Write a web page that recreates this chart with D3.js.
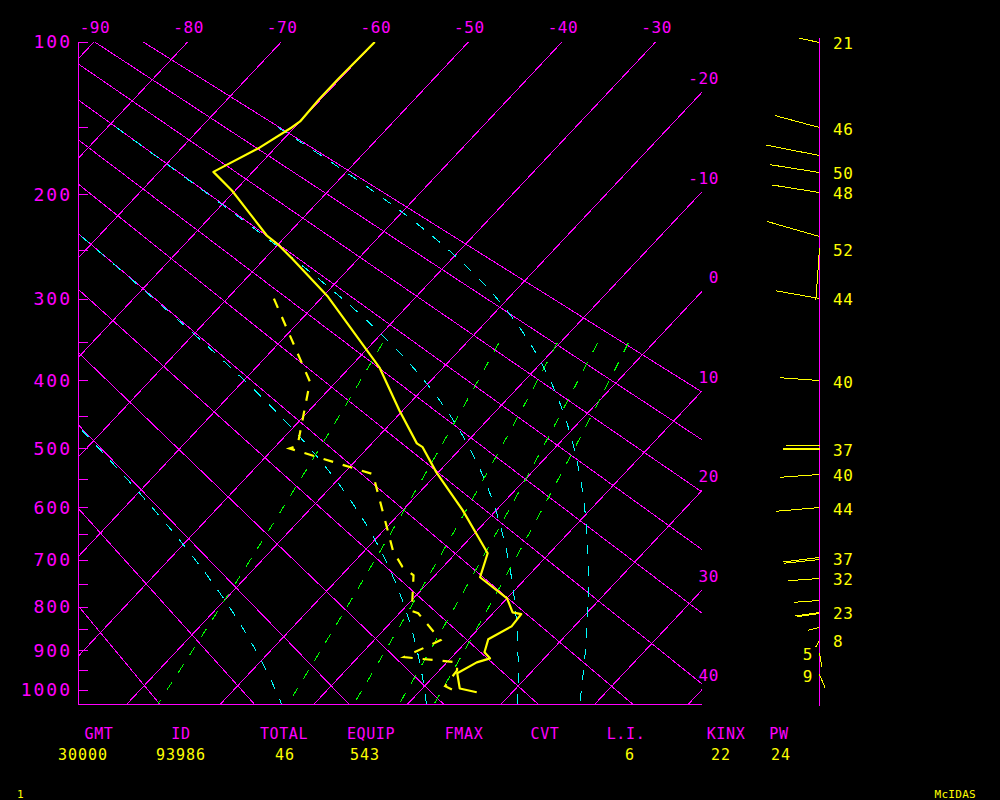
<!DOCTYPE html>
<html><head><meta charset="utf-8">
<script src="https://cdn.jsdelivr.net/npm/d3@7"></script>
<style>html,body{margin:0;padding:0;background:#000}svg{display:block}</style>
</head><body>
<svg id="c" width="1000" height="800"></svg>
<script>
// ---------------- data ----------------
const pressureTicks  = [100,150,200,250,300,350,400,450,500,550,600,650,700,750,800,850,900,950,1000];
const pressureLabels = [100,200,300,400,500,600,700,800,900,1000];
const isotherms      = [-90,-80,-70,-60,-50,-40,-30,-20,-10,0,10,20,30,40];
const dryAdiabatsK   = [254,264,274,284,294,304,314,324,334,344,354,364];
const moistAdiabatsK = [274,304,334,364];
const mixingRatios   = [1,3,5,7,9];

const tempP = [100,120,132,146,150,164,182,197,213,236,244,258,298,383,442,492,498,539,605,687,736,781,812,816,844,874,905,920,930,957,996,1006];
const tempT = [-60.0,-60.2,-60.2,-60.0,-60.3,-61.7,-64.2,-60.3,-56.8,-52.1,-50.1,-47.1,-39.4,-26.8,-20.4,-15.2,-14.2,-10.2,-3.6,3.4,5.0,10.0,12.0,13.1,13.3,12.1,13.0,14.2,13.2,12.2,14.0,16.2];

const dewP = [300,402,496,500,542,683,715,732,809,814,876,917,930,950,990,1003];
const dewT = [-45.0,-32.8,-27.7,-28.3,-16.8,-6.9,-4.3,-2.3,1.1,2.0,7.1,4.9,11.1,11.9,12.2,13.8];

const windP     = [100,150,169,182,198,236,248,299,400,494,499,501,542,600,695,698,737,784,811,813,846,875,907,960];
const windDir   = [282,285,281,279,279,286,184,280,274,270,270,270,266,265,263,264,266,266,262,262,257,210,170,157];
const windSpd   = [21,46,54,50,48,55,52,44,40,34,37,37,40,44,37,36,32,26,25,23,12,8,14,14];
const windLabel = ["21","46",null,"50","48",null,"52","44","40",null,null,"37","40","44","37",null,"32",null,"23",null,null,"8","5","9"];

const statNames  = ["GMT","ID","TOTAL","EQUIP","FMAX","CVT","L.I.","KINX","PW"];
const statValues = ["30000","93986","46","543","","","6","22","24"];

// ---------------- layout / style ----------------
const W = 1000, H = 800;
const MAG = "#ff00ff", YEL = "#ffff00", CYA = "#00ffff", GRN = "#00ff00";
const FONT = "'DejaVu Sans Mono', monospace";
const KAPPA = 0.286;
const P_TOP = 100, P_BOT = 1037;
const plotLeft = 78, plotRight = 702, staffX = 819;
const skew = 0.94;

const svg = d3.select("#c");
svg.append("rect").attr("width", W).attr("height", H).attr("fill", "#000");

const y = d3.scalePow().exponent(KAPPA).domain([100, 1000]).range([42, 690]);
const tx = d3.scaleLinear().domain([-90, -30]).range([94, 655.6]);
const plotTop = y(P_TOP), plotBottom = y(P_BOT);
const X = (t, p) => tx(t) - skew * (y(p) - plotTop);
const px = v => Math.round(v) + 0.5;   // pixel-centre for 1px rules

const line = d3.line().x(d => X(d.t, d.p)).y(d => y(d.p));

svg.append("clipPath").attr("id", "plot").append("rect")
  .attr("x", plotLeft).attr("y", plotTop)
  .attr("width", plotRight - plotLeft).attr("height", plotBottom - plotTop);

const g = svg.append("g").attr("clip-path", "url(#plot)");

function pRange(p0, p1, step) {
  const a = [];
  for (let p = p0; p < p1; p += step) a.push(p);
  a.push(p1);
  return a;
}

// isotherms
g.selectAll("path.iso").data(isotherms).enter().append("path")
  .attr("d", t => line([{p: P_TOP, t}, {p: P_BOT, t}]))
  .attr("fill", "none").attr("stroke", MAG).attr("stroke-width", 1)
  .attr("shape-rendering", "crispEdges");

// dry adiabats
g.selectAll("path.dry").data(dryAdiabatsK).enter().append("path")
  .attr("d", th => line(pRange(P_TOP, P_BOT, 5).map(p => ({p, t: th * Math.pow(p / 1000, KAPPA) - 273.15}))))
  .attr("fill", "none").attr("stroke", MAG).attr("stroke-width", 1)
  .attr("shape-rendering", "crispEdges");

// moist adiabats (pseudo)
const es = tc => 6.112 * Math.exp(17.67 * tc / (tc + 243.5));
function thetaE(tc, p) {
  const tk = tc + 273.15, e = es(tc), r = 0.622 * e / (p - e);
  return tk * Math.pow(1000 / p, KAPPA) * Math.exp(2.5e6 * r / (1004 * tk));
}
function moistT(the, p) {
  let lo = -160, hi = 60;
  for (let i = 0; i < 60; i++) {
    const mid = (lo + hi) / 2;
    if (thetaE(mid, p) > the) hi = mid; else lo = mid;
  }
  return (lo + hi) / 2;
}
g.selectAll("path.moist").data(moistAdiabatsK).enter().append("path")
  .attr("d", th => line(pRange(150, P_BOT, 5).map(p => ({p, t: moistT(th, p)}))))
  .attr("fill", "none").attr("stroke", CYA).attr("stroke-width", 1)
  .attr("stroke-dasharray", "10,11").attr("shape-rendering", "crispEdges");

// mixing ratio lines
function dewFromW(w, p) {
  const e = p * w / (622 + w), l = Math.log(e / 6.112);
  return 243.5 * l / (17.67 - l);
}
g.selectAll("path.mix").data(mixingRatios).enter().append("path")
  .attr("d", w => line(pRange(352, P_BOT, 5).map(p => ({p, t: dewFromW(w, p)}))))
  .attr("fill", "none").attr("stroke", GRN).attr("stroke-width", 1)
  .attr("stroke-dasharray", "10,11").attr("shape-rendering", "crispEdges");

// temperature & dewpoint
const tempData = tempP.map((p, i) => ({p, t: tempT[i]}));
const dewData = dewP.map((p, i) => ({p, t: dewT[i]}));
g.append("path").attr("d", line(dewData)).attr("fill", "none")
  .attr("stroke", YEL).attr("stroke-width", 2.2).attr("stroke-dasharray", "10,10");
g.append("path").attr("d", line(tempData)).attr("fill", "none")
  .attr("stroke", YEL).attr("stroke-width", 2.2).attr("stroke-linejoin", "round");

// axes frame
svg.append("line").attr("x1", px(plotLeft)).attr("x2", px(plotLeft))
  .attr("y1", plotTop).attr("y2", px(plotBottom))
  .attr("stroke", MAG).attr("stroke-width", 1).attr("shape-rendering", "crispEdges");
svg.append("line").attr("x1", px(plotLeft)).attr("x2", plotRight)
  .attr("y1", px(plotBottom)).attr("y2", px(plotBottom))
  .attr("stroke", MAG).attr("stroke-width", 1).attr("shape-rendering", "crispEdges");
svg.selectAll("line.tick").data(pressureTicks).enter().append("line")
  .attr("x1", px(plotLeft)).attr("x2", px(plotLeft) + 9)
  .attr("y1", p => px(y(p))).attr("y2", p => px(y(p)))
  .attr("stroke", MAG).attr("stroke-width", 1).attr("shape-rendering", "crispEdges");
svg.selectAll("text.plab").data(pressureLabels).enter().append("text")
  .attr("x", 72).attr("y", p => y(p)).attr("dy", "0.36em")
  .attr("text-anchor", "end").attr("fill", MAG)
  .attr("font-family", FONT).attr("font-size", 18).attr("letter-spacing", 2)
  .text(d => d);

// isotherm labels
const topIso = isotherms.filter(t => X(t, P_TOP) >= plotLeft && X(t, P_TOP) <= plotRight);
const rightIso = isotherms.filter(t => X(t, P_TOP) > plotRight);
svg.selectAll("text.tlab").data(topIso).enter().append("text")
  .attr("x", t => X(t, P_TOP) + 1).attr("y", 33)
  .attr("text-anchor", "middle").attr("fill", MAG)
  .attr("font-family", FONT).attr("font-size", 16).attr("letter-spacing", 0.6)
  .text(d => d);
svg.selectAll("text.rlab").data(rightIso).enter().append("text")
  .attr("x", 719).attr("y", t => plotTop + (tx(t) - plotRight) / skew - 14).attr("dy", "0.36em")
  .attr("text-anchor", "end").attr("fill", MAG)
  .attr("font-family", FONT).attr("font-size", 16).attr("letter-spacing", 0.6)
  .text(d => d);

// wind column
svg.append("line").attr("x1", px(staffX)).attr("x2", px(staffX))
  .attr("y1", 38).attr("y2", px(plotBottom) + 1)
  .attr("stroke", MAG).attr("stroke-width", 1.3).attr("shape-rendering", "crispEdges");
const winds = windP.map((p, i) => {
  const a = windDir[i] * Math.PI / 180;
  return {p, dx: Math.sin(a) * windSpd[i], dy: -Math.cos(a) * windSpd[i], label: windLabel[i]};
});
svg.selectAll("line.wind").data(winds).enter().append("line")
  .attr("x1", px(staffX)).attr("y1", d => px(y(d.p)))
  .attr("x2", d => px(staffX) + d.dx).attr("y2", d => px(y(d.p)) + d.dy)
  .attr("stroke", YEL).attr("stroke-width", 1).attr("shape-rendering", "crispEdges");
svg.selectAll("text.wlab").data(winds.filter(d => d.label)).enter().append("text")
  .attr("x", d => d.dx <= 0 ? staffX + 14 : staffX - 6)
  .attr("y", d => y(d.p) + 1.5).attr("dy", "0.36em")
  .attr("text-anchor", d => d.dx <= 0 ? "start" : "end")
  .attr("fill", YEL).attr("font-family", FONT).attr("font-size", 16).attr("letter-spacing", 0.6)
  .text(d => d.label);

// footer
const nameX  = [99,181,284,371,464,545,626,726,779];
const valueX = [83,181,285,365,464,545,630,721,781];
svg.selectAll("text.sn").data(statNames).enter().append("text")
  .attr("x", (d, i) => nameX[i]).attr("y", 734).attr("dy", "0.36em")
  .attr("text-anchor", "middle").attr("fill", MAG)
  .attr("font-family", FONT).attr("font-size", 15).attr("letter-spacing", 0.6)
  .text(d => d);
svg.selectAll("text.sv").data(statValues).enter().append("text")
  .attr("x", (d, i) => valueX[i]).attr("y", 755).attr("dy", "0.36em")
  .attr("text-anchor", "middle").attr("fill", YEL)
  .attr("font-family", FONT).attr("font-size", 15).attr("letter-spacing", 1)
  .text(d => d);
svg.append("text").attr("x", 17).attr("y", 794).attr("dy", "0.36em")
  .attr("fill", YEL).attr("font-family", FONT).attr("font-size", 11).text("1");
svg.append("text").attr("x", 976).attr("y", 794).attr("dy", "0.36em").attr("text-anchor", "end")
  .attr("fill", YEL).attr("font-family", FONT).attr("font-size", 11).attr("letter-spacing", 0.3).text("McIDAS");
</script>
</body></html>
